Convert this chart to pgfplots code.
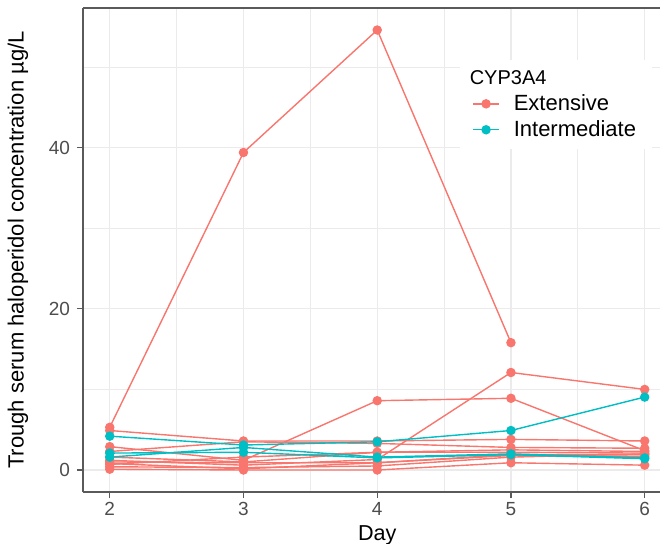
\documentclass[border=0pt]{standalone}
\usepackage{pgfplots}
\pgfplotsset{compat=1.18}
\usepackage{fontspec}
\setmainfont{Liberation Sans}
\definecolor{ext}{HTML}{F8766D}
\definecolor{inter}{HTML}{00BFC4}
\definecolor{gridc}{HTML}{EBEBEB}
\definecolor{framec}{HTML}{5A5A5A}
\definecolor{tickc}{HTML}{4D4D4D}
\begin{document}
\begin{tikzpicture}
\useasboundingbox (-41.5pt,-25.5pt) rectangle (288.5pt,246pt);
\clip (-41.5pt,-25.5pt) rectangle (288.5pt,246pt);
\begin{axis}[
  at={(0pt,0pt)}, anchor=south west,
  scale only axis, width=307.6pt, height=242pt,
  xmin=1.8, xmax=6.4, ymin=-2.73, ymax=57.33,
  axis x line*=box, axis y line*=left,
  xtick={2,3,4,5,6}, ytick={0,20,40},
  minor xtick={2.5,3.5,4.5,5.5}, minor ytick={10,30,50},
  grid=both,
  major grid style={gridc, line width=0.6pt},
  minor grid style={gridc, line width=0.4pt},
  axis line style={framec, line width=0.6pt},
  tick align=outside, xtick pos=left, ytick pos=left,
  major tick length=3pt, minor tick length=0pt,
  every tick/.style={framec, line width=0.6pt},
  /pgf/number format/assume math mode=true,
  tick label style={font=\fontsize{9.5}{11}\selectfont, text=tickc},
  xticklabel style={yshift=1.5pt},
  xlabel={Day},
  ylabel={Trough serum haloperidol concentration µg/L},
  xlabel style={font=\fontsize{10.8}{13}\selectfont, at={(axis description cs:0.4783,-0.09)}, anchor=center},
  ylabel style={font=\fontsize{11}{13}\selectfont, at={(axis description cs:-0.1057,0.5)}, anchor=center},
  legend style={at={(0.6128,0.8926)}, anchor=north west, draw=none, fill=white,
    inner xsep=6pt, inner ysep=3pt, font=\fontsize{11}{13}\selectfont,
    row sep=-0.5pt},
  legend cell align=left,
  legend image code/.code={\draw[mark repeat=2,mark phase=2,#1] plot coordinates {(0pt,0pt)(6.5pt,0pt)(13pt,0pt)}; \path (18pt,0pt);},
  every axis plot/.append style={line width=0.7pt, mark=*, mark size=2pt},
]
\addlegendimage{empty legend}
\addlegendentry{\hspace*{-22pt}\fontsize{10}{12}\selectfont CYP3A4}
\addlegendimage{ext, mark=*, mark size=2pt, line width=0.7pt}
\addlegendentry{Extensive}
\addlegendimage{inter, mark=*, mark size=2pt, line width=0.7pt}
\addlegendentry{Intermediate}

% Extensive
\addplot[ext, forget plot] coordinates {(2,5.3)(3,39.4)(4,54.6)(5,15.8)};
\addplot[ext, forget plot] coordinates {(2,4.9)(3,3.6)(4,3.6)(5,3.8)(6,3.6)};
\addplot[ext, forget plot] coordinates {(2,2.9)(3,1.2)(4,8.6)(5,8.9)(6,2.4)};
\addplot[ext, forget plot] coordinates {(2,1.2)(3,0.6)(4,1.3)(5,12.1)(6,10.0)};
\addplot[ext, forget plot] coordinates {(2,2.3)(3,3.5)(4,3.3)(5,2.8)(6,2.7)};
\addplot[ext, forget plot] coordinates {(2,1.6)(3,1.0)(4,2.2)(5,2.2)(6,2.1)};
\addplot[ext, forget plot] coordinates {(2,1.0)(3,0.9)(4,0.9)(5,1.9)(6,1.9)};
\addplot[ext, forget plot] coordinates {(2,0.7)(3,1.6)(4,2.2)(5,2.5)(6,2.3)};
\addplot[ext, forget plot] coordinates {(2,0.1)(3,0.0)(4,0.0)(5,0.9)(6,0.6)};
\addplot[ext, forget plot] coordinates {(2,0.4)(3,0.3)(4,0.5)(5,1.6)(6,2.0)};
\addplot[ext, forget plot] coordinates {(2,0.8)(3,0.15)(4,0.9)(5,1.8)(6,1.7)};
% Intermediate
\addplot[inter, forget plot] coordinates {(2,4.2)(3,3.1)(4,3.5)(5,4.9)(6,9.05)};
\addplot[inter, forget plot] coordinates {(2,2.1)(3,2.2)(4,1.5)(5,1.9)(6,1.4)};
\addplot[inter, forget plot] coordinates {(2,1.6)(3,2.8)(4,1.6)(5,2.0)(6,1.5)};
\end{axis}
\end{tikzpicture}
\end{document}
